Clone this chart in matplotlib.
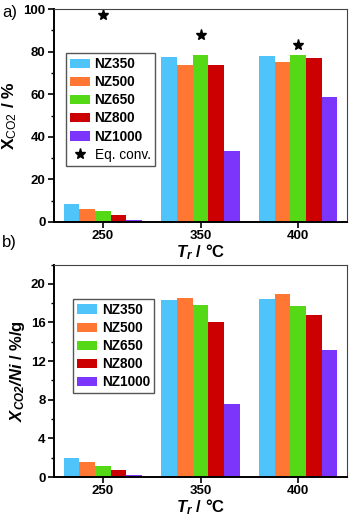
import matplotlib
matplotlib.use("Agg")
import matplotlib.pyplot as plt
import numpy as np
from matplotlib.ticker import MultipleLocator

temps = ["250", "350", "400"]
names = ["NZ350", "NZ500", "NZ650", "NZ800", "NZ1000"]
colors = ["#4fc4fb", "#ff7733", "#55d816", "#cc0000", "#7b35fb"]

# conversion X_CO2 (%) per catalyst, at 250/350/400 C
conv = [
    [8.5, 77.5, 78.0],
    [6.3, 73.5, 75.3],
    [5.2, 78.5, 78.5],
    [3.5, 73.5, 77.0],
    [1.0, 33.5, 58.5],
]
eq_conv = [97, 88, 83]

# conversion normalised by Ni content (%/g)
conv_ni = [
    [2.0, 18.3, 18.4],
    [1.55, 18.5, 18.9],
    [1.15, 17.8, 17.7],
    [0.72, 16.0, 16.8],
    [0.22, 7.6, 13.2],
]

plt.rcParams['font.family'] = ['Liberation Sans', 'DejaVu Sans']
plt.rcParams['mathtext.fontset'] = 'custom'
plt.rcParams['mathtext.rm'] = 'Liberation Sans'
plt.rcParams['mathtext.bf'] = 'Liberation Sans:bold'
plt.rcParams['mathtext.it'] = 'Liberation Sans:italic'
plt.rcParams['mathtext.bfit'] = 'Liberation Sans:bold:italic'

fig = plt.figure(figsize=(3.49, 5.16), dpi=100)
ax1 = fig.add_axes([54/349, 1-222/516, 293/349, 213/516])
ax2 = fig.add_axes([54/349, 1-477/516, 293/349, 212.5/516])

x = np.arange(len(temps))
w = 0.16
leg_kw = dict(loc='upper left', borderaxespad=0, frameon=True, fancybox=False,
              edgecolor='#555555', framealpha=1, handlelength=1.45, handleheight=0.7,
              borderpad=0.3, labelspacing=0.3, handletextpad=0.35,
              prop={'weight': 'bold', 'size': 9.8})


def style(ax):
    for s in ['left', 'bottom']:
        ax.spines[s].set_linewidth(1.4)
    for s in ['top', 'right']:
        ax.spines[s].set_linewidth(0.8)
        ax.spines[s].set_color('#444444')
    ax.set_xlim(-0.5, 2.5)
    ax.set_xticks(x)
    ax.set_xticklabels(temps)
    ax.tick_params(axis='both', direction='out', labelsize=9.5, width=1.2, length=4, pad=2)
    ax.tick_params(axis='y', which='minor', direction='out', width=1, length=2.5)
    ax.tick_params(axis='x', which='minor', bottom=False)
    for lab in ax.get_xticklabels() + ax.get_yticklabels():
        lab.set_fontweight('bold')
    ax.set_xlabel(r'$\mathbfit{T}_{\mathbfit{r}}\mathbf{\ /\ °C}$', fontsize=12, labelpad=0)


for i, n in enumerate(names):
    ax1.bar(x + (i - 2) * w, conv[i], w, color=colors[i], label=n)
ax1.plot(x, eq_conv, linestyle='none', marker='*', color='black', markersize=8, label='Eq. conv.')
ax1.set_ylim(0, 100)
ax1.yaxis.set_major_locator(MultipleLocator(20))
ax1.yaxis.set_minor_locator(MultipleLocator(10))
style(ax1)
ax1.set_ylabel(r'$\mathbf{X}_{\mathrm{CO2}}\mathbf{\ /\ \%}$', fontsize=12.5, labelpad=3)
h, l = ax1.get_legend_handles_labels()
h = h[1:] + h[:1]
l = l[1:] + l[:1]
leg = ax1.legend(h, l, bbox_to_anchor=(0.041, 0.793), **leg_kw)
leg.get_texts()[-1].set_fontweight('normal')

for i, n in enumerate(names):
    ax2.bar(x + (i - 2) * w, conv_ni[i], w, color=colors[i], label=n)
ax2.set_ylim(0, 22)
ax2.yaxis.set_major_locator(MultipleLocator(4))
ax2.yaxis.set_minor_locator(MultipleLocator(2))
style(ax2)
ax2.set_ylabel(r'$\mathbfit{X}_{\mathbfit{CO2}}\mathbfit{/Ni}\mathbf{\ /\ \%/g}$', fontsize=12, labelpad=3)
ax2.legend(bbox_to_anchor=(0.065, 0.838), **leg_kw)

fig.text(2/349, 1-12/516, 'a)', fontsize=12, va='center')
fig.text(2/349, 1-242/516, 'b)', fontsize=12, va='center')

fig.savefig('out.png', dpi=100)
